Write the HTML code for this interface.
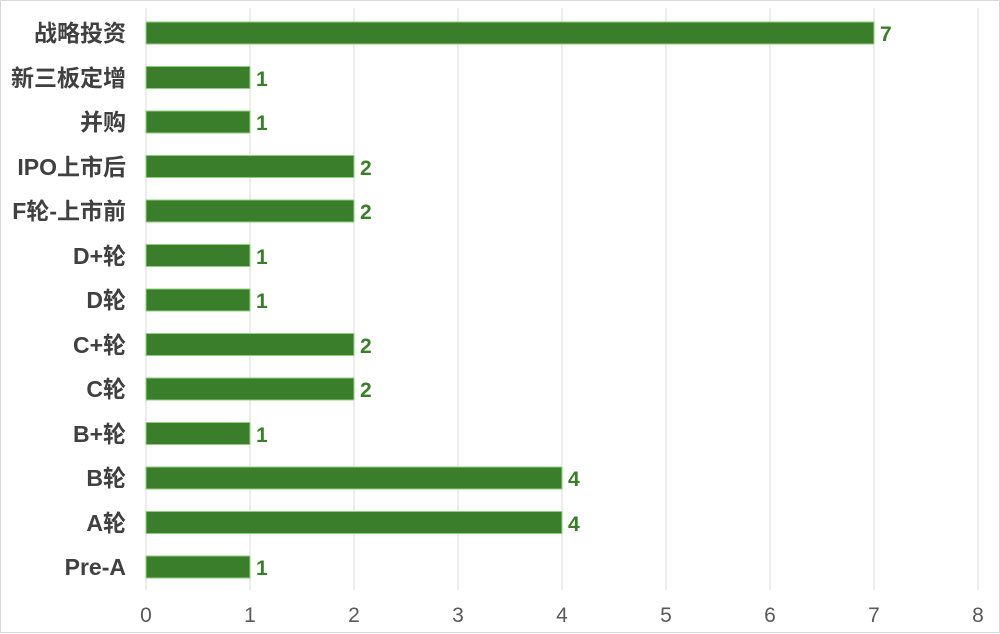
<!DOCTYPE html><html><head><meta charset="utf-8"><style>body{margin:0;background:#fff}svg{display:block}</style></head><body>
<svg width="1000" height="634" xmlns="http://www.w3.org/2000/svg" font-family="Liberation Sans, Noto Sans CJK SC, sans-serif">
<rect x="0.5" y="0.5" width="999" height="632" fill="#fff" stroke="#d9d9d9"/>
<g stroke="#d9d9d9" stroke-width="1">
<line x1="146" y1="8" x2="146" y2="590"/><line x1="250" y1="8" x2="250" y2="590"/><line x1="354" y1="8" x2="354" y2="590"/><line x1="458" y1="8" x2="458" y2="590"/><line x1="562" y1="8" x2="562" y2="590"/><line x1="666" y1="8" x2="666" y2="590"/><line x1="770" y1="8" x2="770" y2="590"/><line x1="874" y1="8" x2="874" y2="590"/><line x1="978" y1="8" x2="978" y2="590"/>
</g>
<g font-size="21" fill="#595959" text-anchor="middle">
<text x="146" y="622">0</text><text x="250" y="622">1</text><text x="354" y="622">2</text><text x="458" y="622">3</text><text x="562" y="622">4</text><text x="666" y="622">5</text><text x="770" y="622">6</text><text x="874" y="622">7</text><text x="978" y="622">8</text>
</g>
<g fill="#3a7d2a" stroke="#8fcf7f" stroke-width="1">
<rect x="146" y="22" width="728" height="22"/>
<rect x="146" y="66.5" width="104" height="22"/>
<rect x="146" y="111" width="104" height="22"/>
<rect x="146" y="155.5" width="208" height="22"/>
<rect x="146" y="200" width="208" height="22"/>
<rect x="146" y="244.5" width="104" height="22"/>
<rect x="146" y="289" width="104" height="22"/>
<rect x="146" y="333.5" width="208" height="22"/>
<rect x="146" y="378" width="208" height="22"/>
<rect x="146" y="422.5" width="104" height="22"/>
<rect x="146" y="467" width="416" height="22"/>
<rect x="146" y="511.5" width="416" height="22"/>
<rect x="146" y="556" width="104" height="22"/>
</g>
<g font-size="21" font-weight="bold" fill="#3a7d2a">
<text x="880" y="41">7</text><text x="256" y="86">1</text><text x="256" y="130">1</text><text x="360" y="175">2</text><text x="360" y="219">2</text><text x="256" y="264">1</text><text x="256" y="308">1</text><text x="360" y="353">2</text><text x="360" y="397">2</text><text x="256" y="442">1</text><text x="568" y="486">4</text><text x="568" y="531">4</text><text x="256" y="575">1</text>
</g>
<g font-size="23" font-weight="bold" fill="#404040" text-anchor="end">
<text x="126" y="41">战略投资</text><text x="126" y="86">新三板定增</text><text x="126" y="130">并购</text><text x="126" y="175">IPO上市后</text><text x="126" y="219">F轮-上市前</text><text x="126" y="264">D+轮</text><text x="126" y="308">D轮</text><text x="126" y="353">C+轮</text><text x="126" y="397">C轮</text><text x="126" y="442">B+轮</text><text x="126" y="486">B轮</text><text x="126" y="531">A轮</text><text x="126" y="575">Pre-A</text>
</g>
</svg></body></html>
